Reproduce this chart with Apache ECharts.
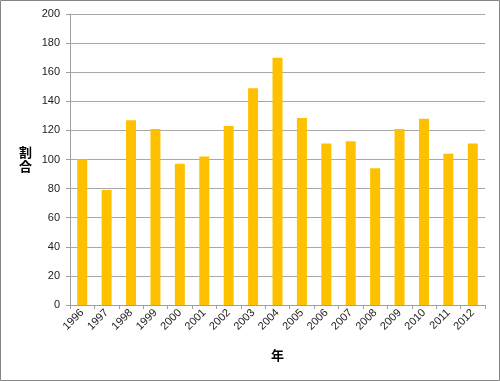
<!DOCTYPE html>
<html>
<head>
<meta charset="utf-8">
<script src="https://cdn.jsdelivr.net/npm/echarts@6/dist/echarts.min.js"></script>
<style>
html,body{margin:0;padding:0;background:#fff;}
#c{width:500px;height:381px;}
</style>
</head>
<body>
<div id="c"></div>
<script>
var years = ['1996','1997','1998','1999','2000','2001','2002','2003','2004','2005','2006','2007','2008','2009','2010','2011','2012'];
var values = [100, 79, 127, 121, 97, 102, 123, 149, 170, 128.5, 111, 112.5, 94, 121, 128, 104, 111];
var yTicks = {min: 0, max: 200, interval: 20};
var xTitle = '年';
var yTitle = '割\n合';

var chart = echarts.init(document.getElementById('c'), null, {renderer: 'canvas'});
var font = 'Liberation Sans, DejaVu Sans, sans-serif';
var cjk = 'Noto Sans CJK JP, sans-serif';
chart.setOption({
  animation: false,
  backgroundColor: '#fff',
  graphic: [{
    type: 'rect',
    shape: {x: 0.5, y: 0.5, width: 499, height: 380},
    style: {fill: null, stroke: '#868686', lineWidth: 1},
    silent: true
  }],
  grid: {left: 70, right: 15, top: 14, bottom: 76, containLabel: false},
  xAxis: {
    type: 'category',
    data: years,
    boundaryGap: true,
    name: xTitle,
    nameLocation: 'middle',
    nameGap: 44,
    nameTextStyle: {fontFamily: cjk, fontSize: 13, fontWeight: 'bold', color: '#000'},
    axisLine: {lineStyle: {color: '#A0A0A0', width: 1}},
    axisTick: {show: true, alignWithLabel: false, length: 4, lineStyle: {color: '#A0A0A0'}},
    axisLabel: {rotate: 45, margin: 6, fontFamily: font, fontSize: 11, color: '#222', interval: 0}
  },
  yAxis: {
    type: 'value',
    min: yTicks.min,
    max: yTicks.max,
    interval: yTicks.interval,
    name: yTitle,
    nameLocation: 'middle',
    nameRotate: 0,
    nameGap: 38,
    nameTextStyle: {fontFamily: cjk, fontSize: 13, fontWeight: 'bold', color: '#000', lineHeight: 14},
    axisLine: {show: true, lineStyle: {color: '#A0A0A0', width: 1}},
    axisTick: {show: true, length: 4, lineStyle: {color: '#A0A0A0'}},
    axisLabel: {margin: 10, fontFamily: font, fontSize: 11, color: '#222'},
    splitLine: {show: true, lineStyle: {color: '#A8A8A8', width: 1}}
  },
  series: [{
    type: 'bar',
    data: values,
    barWidth: 10,
    itemStyle: {color: '#FFC000'}
  }]
});
</script>
</body>
</html>
